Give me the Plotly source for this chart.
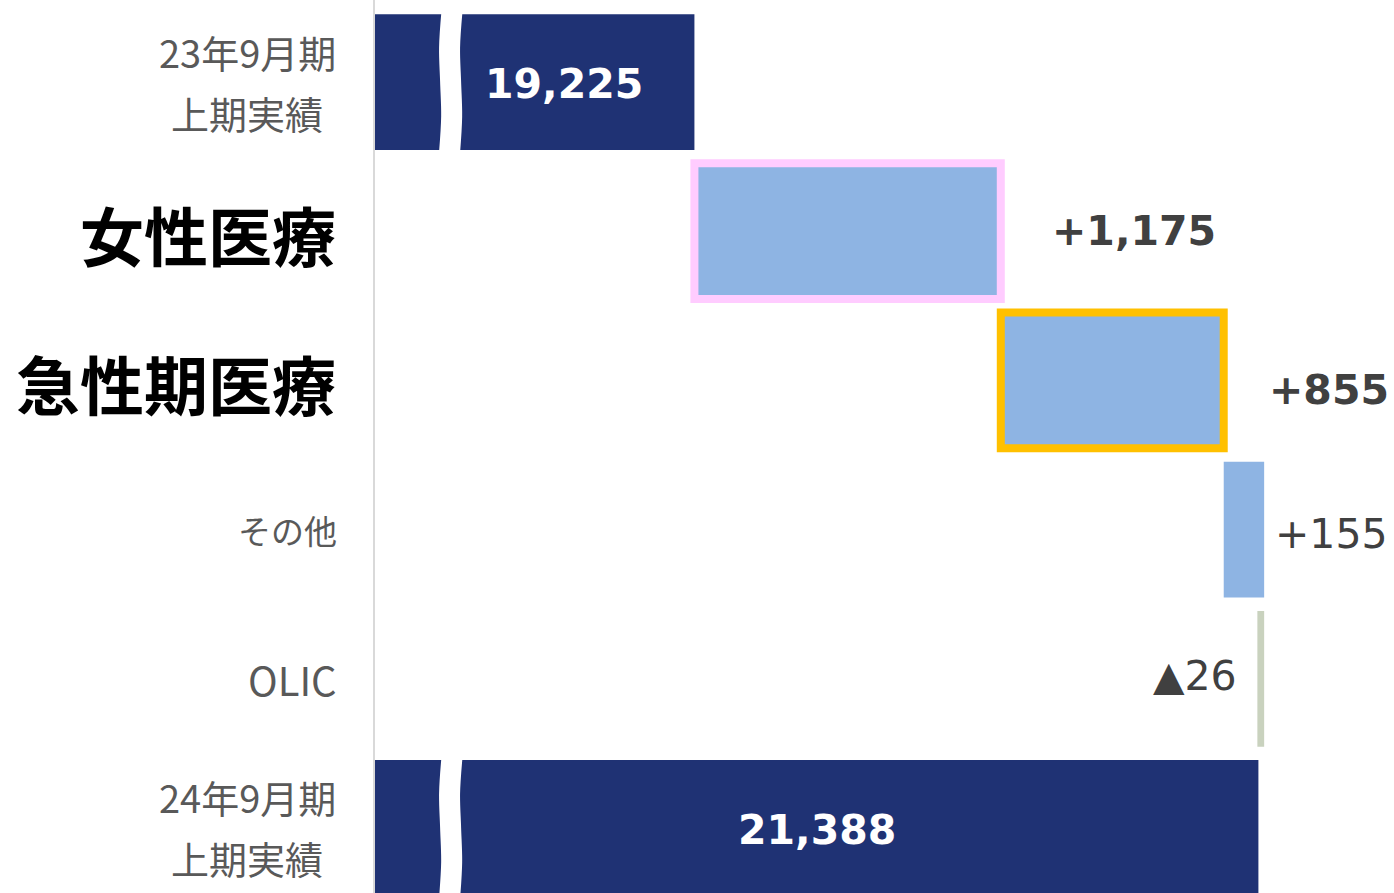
import plotly.graph_objects as go

# ---------------- data ----------------
label_lines = [["23年9月期", "上期実績"], ["女性医療"], ["急性期医療"], ["その他"], ["OLIC"], ["24年9月期", "上期実績"]]
label_bold = [False, True, True, False, False, False]
start_total = 19225
deltas = [1175, 855, 155, -26]
end_total = 21388
delta_labels = ["+1,175", "+855", "+155", "▲26"]
delta_label_bold = [True, True, False, False]
total_labels = ["19,225", "21,388"]

# ---------------- styles ----------------
NAVY = "#1F3274"
LIGHT = "#8EB4E3"
OLIC_C = "#C9D2BE"
delta_colors = [LIGHT, LIGHT, LIGHT, OLIC_C]
delta_line_colors = ["#FFCCFF", "#FFC000", "rgba(0,0,0,0)", "rgba(0,0,0,0)"]
delta_line_widths = [8, 8, 0, 0]
X_MIN, X_MAX = 18000, 21908
BREAK_X = 18290
BAR_W = 0.91
JP = "Noto Sans CJK JP"
NUM = "DejaVu Sans"

n = len(label_lines)
total_idx = [0, n - 1]
delta_idx = list(range(1, n - 1))
bases = []
cum = start_total
for d in deltas:
    bases.append(cum)
    cum += d

fig = go.Figure()
fig.add_trace(go.Bar(
    y=total_idx, x=[start_total, end_total], base=0, orientation="h",
    width=BAR_W, marker=dict(color=NAVY, line=dict(width=0)), hoverinfo="skip"))
fig.add_trace(go.Bar(
    y=delta_idx, x=deltas, base=bases, orientation="h", width=BAR_W,
    marker=dict(color=delta_colors, line=dict(color=delta_line_colors, width=delta_line_widths)),
    hoverinfo="skip"))

# axis-break marks on the total bars
wig = [5, -4, 0, 4, -4]
for i in total_idx:
    fig.add_trace(go.Scatter(
        x=[BREAK_X + w for w in wig],
        y=[i - 0.47, i - 0.23, i, i + 0.23, i + 0.47],
        mode="lines", line=dict(color="white", width=21, shape="spline"),
        hoverinfo="skip", showlegend=False))

ann = []
# category labels
for i, lines in enumerate(label_lines):
    if len(lines) == 2:
        for k, t in enumerate(lines):
            ann.append(dict(x=0, xref="paper", y=i, yref="y", text=t, showarrow=False,
                            xanchor="center", xshift=-128, yshift=31 if k == 0 else -30,
                            font=dict(family=JP, size=38, color="#595959")))
    elif label_bold[i]:
        ann.append(dict(x=0, xref="paper", y=i, yref="y", text="<b>%s</b>" % lines[0], showarrow=False,
                        xanchor="right", xshift=-37, yshift=-2,
                        font=dict(family=JP, size=64, color="#000000")))
    else:
        ann.append(dict(x=0, xref="paper", y=i, yref="y", text=lines[0], showarrow=False,
                        xanchor="right", xshift=-36,
                        font=dict(family=JP, size=33 if lines[0] != "OLIC" else 40, color="#595959")))

# total labels
tot_shift = [-49, -360]
for j, i in enumerate(total_idx):
    val = start_total if j == 0 else end_total
    ann.append(dict(x=val, y=i, text="<b>%s</b>" % total_labels[j], showarrow=False,
                    xanchor="right", xshift=tot_shift[j], yshift=-2,
                    font=dict(family=NUM, size=41, color="white")))

# delta labels
d_xshift = [49, 43, 9, -18]
d_yshift = [0, -10, -4, 3]
for k, i in enumerate(delta_idx):
    d = deltas[k]
    txt = "<b>%s</b>" % delta_labels[k] if delta_label_bold[k] else delta_labels[k]
    ann.append(dict(x=bases[k] + d, y=i, text=txt, showarrow=False,
                    xanchor="left" if d >= 0 else "right",
                    xshift=d_xshift[k], yshift=d_yshift[k],
                    font=dict(family=NUM, size=41, color="#404040")))

fig.update_layout(
    width=1394, height=893,
    margin=dict(l=375, r=0, t=0, b=0),
    paper_bgcolor="white", plot_bgcolor="white",
    barmode="overlay", showlegend=False,
    annotations=ann,
    xaxis=dict(range=[X_MIN, X_MAX], visible=False, showgrid=False, zeroline=False),
    yaxis=dict(range=[5.436, -0.55], showticklabels=False, showgrid=False, zeroline=False,
               showline=True, linecolor="#D9D9D9", linewidth=2, ticks=""),
)

fig.write_html("out.html", config={"displayModeBar": False},
               post_script="document.body.style.margin='0';document.body.style.overflow='hidden';")
